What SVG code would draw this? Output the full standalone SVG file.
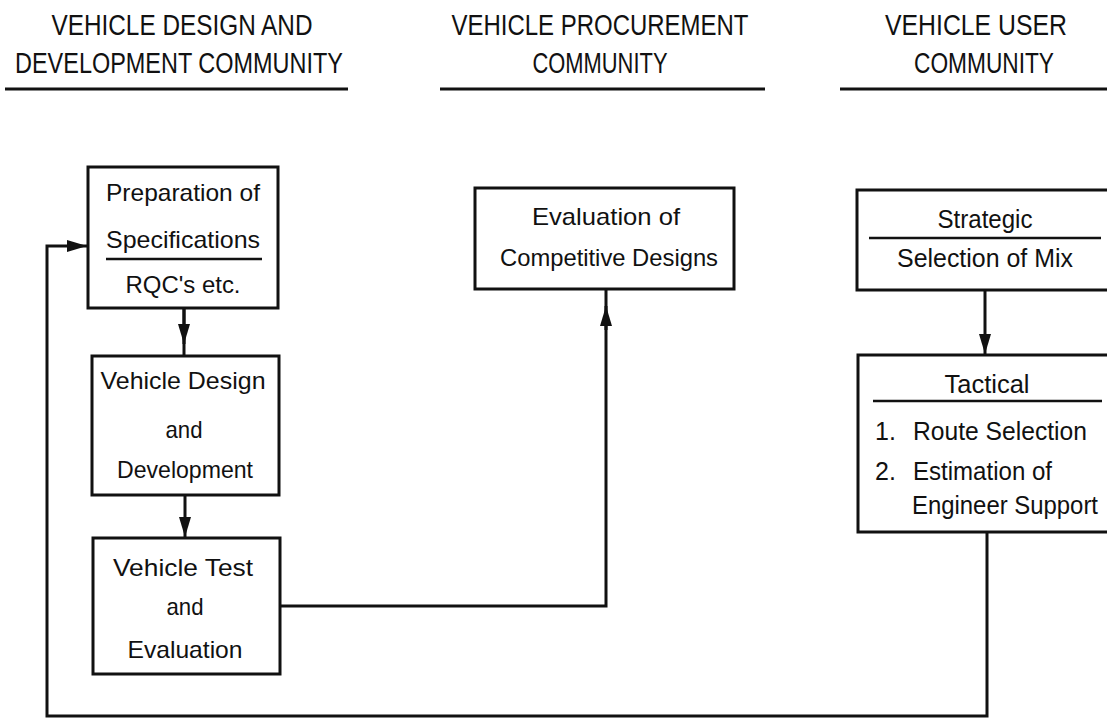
<svg xmlns="http://www.w3.org/2000/svg" width="1107" height="719" viewBox="0 0 1107 719">
<defs>
<style>
.hd{font-family:"Liberation Sans Narrow","Liberation Sans",Arial,sans-serif;font-size:29px;fill:#111;text-anchor:middle}
.t{font-family:"Liberation Sans Narrow","Liberation Sans",Arial,sans-serif;font-size:24px;fill:#111;text-anchor:middle}
.tr{font-family:"Liberation Sans Narrow","Liberation Sans",Arial,sans-serif;font-size:25px;fill:#111}
.box{fill:#fff;stroke:#111;stroke-width:3}
.rule{stroke:#111;stroke-width:3;fill:none}
.div{stroke:#111;stroke-width:2.5;fill:none}
.con{stroke:#111;stroke-width:3;fill:none}
</style>
<marker id="ah" markerUnits="userSpaceOnUse" markerWidth="22" markerHeight="14" refX="20" refY="7" orient="auto">
<path d="M0,1 L20,7 L0,13 Z" fill="#111"/>
</marker>
</defs>
<rect width="1107" height="719" fill="#fff"/>

<g id="headers">
<text class="hd" x="182" y="35" textLength="261" lengthAdjust="spacingAndGlyphs">VEHICLE DESIGN AND</text>
<text class="hd" x="179" y="73" textLength="328" lengthAdjust="spacingAndGlyphs">DEVELOPMENT COMMUNITY</text>
<line class="rule" x1="5" y1="89" x2="348" y2="89"/>
<text class="hd" x="600" y="35" textLength="297" lengthAdjust="spacingAndGlyphs">VEHICLE PROCUREMENT</text>
<text class="hd" x="600" y="73" textLength="135" lengthAdjust="spacingAndGlyphs">COMMUNITY</text>
<line class="rule" x1="440" y1="89" x2="765" y2="89"/>
<text class="hd" x="976" y="35" textLength="182" lengthAdjust="spacingAndGlyphs">VEHICLE USER</text>
<text class="hd" x="984" y="73" textLength="140" lengthAdjust="spacingAndGlyphs">COMMUNITY</text>
<line class="rule" x1="840" y1="89" x2="1107" y2="89"/>
</g>

<g id="connectors">
<path class="con" d="M184,308 V355"/>
<path class="con" d="M184,308 V344" marker-end="url(#ah)"/>
<path class="con" d="M185,495 V537" marker-end="url(#ah)"/>
<path class="con" d="M280,606 H606 V289"/>
<path class="con" d="M606,330 V306" marker-end="url(#ah)"/>
<path class="con" d="M985,290 V354" marker-end="url(#ah)"/>
<path class="con" d="M987,532 V716 H47 V246 H87" marker-end="url(#ah)"/>
</g>

<g id="node-preparation">
<rect class="box" x="88" y="167" width="190" height="141"/>
<text class="t" x="183" y="201" textLength="154" lengthAdjust="spacingAndGlyphs">Preparation of</text>
<text class="t" x="183" y="248" textLength="154" lengthAdjust="spacingAndGlyphs">Specifications</text>
<line class="div" x1="106" y1="259" x2="262" y2="259"/>
<text class="t" x="183" y="293" textLength="115" lengthAdjust="spacingAndGlyphs">RQC's etc.</text>
</g>

<g id="node-design">
<rect class="box" x="92" y="356" width="187" height="139"/>
<text class="t" x="183" y="389" textLength="165" lengthAdjust="spacingAndGlyphs">Vehicle Design</text>
<text class="t" x="184" y="438" textLength="37" lengthAdjust="spacingAndGlyphs">and</text>
<text class="t" x="185" y="478" textLength="136" lengthAdjust="spacingAndGlyphs">Development</text>
</g>

<g id="node-test">
<rect class="box" x="93" y="538" width="187" height="136"/>
<text class="t" x="183" y="576" textLength="140" lengthAdjust="spacingAndGlyphs">Vehicle Test</text>
<text class="t" x="185" y="615" textLength="37" lengthAdjust="spacingAndGlyphs">and</text>
<text class="t" x="185" y="658" textLength="115" lengthAdjust="spacingAndGlyphs">Evaluation</text>
</g>

<g id="node-evaluation">
<rect class="box" x="475" y="188" width="259" height="101"/>
<text class="t" x="606" y="225" textLength="148" lengthAdjust="spacingAndGlyphs">Evaluation of</text>
<text class="t" x="609" y="266" textLength="218" lengthAdjust="spacingAndGlyphs">Competitive Designs</text>
</g>

<g id="node-strategic">
<rect class="box" x="857" y="190" width="260" height="100"/>
<text class="tr" x="985" y="228" text-anchor="middle" textLength="95" lengthAdjust="spacingAndGlyphs">Strategic</text>
<line class="div" x1="869" y1="238" x2="1101" y2="238"/>
<text class="tr" x="985" y="267" text-anchor="middle" textLength="176" lengthAdjust="spacingAndGlyphs">Selection of Mix</text>
</g>

<g id="node-tactical">
<rect class="box" x="858" y="355" width="260" height="177"/>
<text class="tr" x="987" y="393" text-anchor="middle" textLength="85" lengthAdjust="spacingAndGlyphs">Tactical</text>
<line class="div" x1="873" y1="401" x2="1102" y2="401"/>
<text class="tr" x="875" y="440">1.</text>
<text class="tr" x="913" y="440" textLength="174" lengthAdjust="spacingAndGlyphs">Route Selection</text>
<text class="tr" x="875" y="480">2.</text>
<text class="tr" x="913" y="480" textLength="139" lengthAdjust="spacingAndGlyphs">Estimation of</text>
<text class="tr" x="912" y="514" font-size="23" textLength="186" lengthAdjust="spacingAndGlyphs">Engineer Support</text>
</g>
</svg>
